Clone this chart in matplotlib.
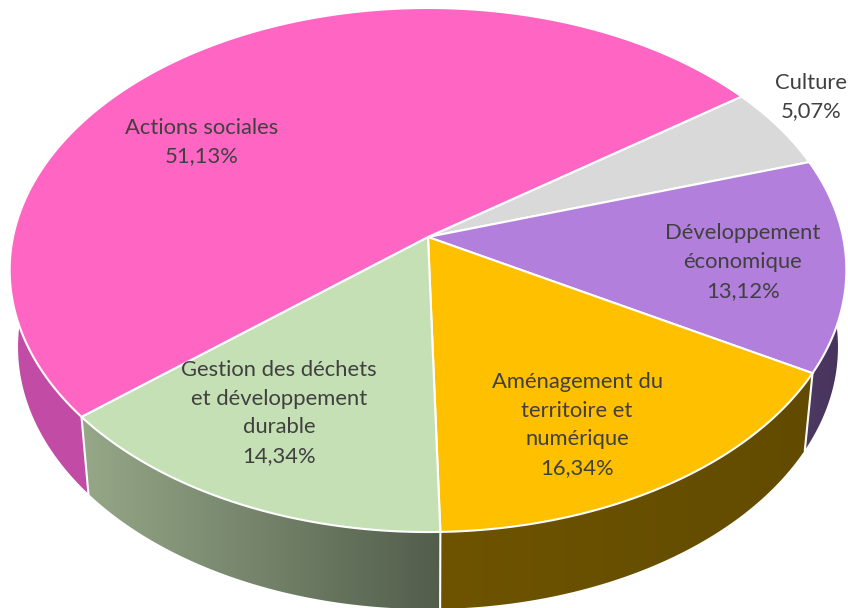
import matplotlib
matplotlib.use('Agg')
import matplotlib.pyplot as plt
from matplotlib.patches import Polygon
import numpy as np

# Slices, clockwise from the Culture/Actions sociales border
labels = ['Culture', 'Développement\néconomique', 'Aménagement du\nterritoire et\nnumérique',
          'Gestion des déchets\net développement\ndurable', 'Actions sociales']
values = [5.07, 13.12, 16.34, 14.34, 51.13]
top_colors = ['#d9d9d9', '#b27fdc', '#ffc000', '#c5e0b4', '#ff66c4']
wall_left = ['#8a8a8a', '#4d3a63', '#6e5400', '#96a888', '#c24ca5']
wall_right = ['#8a8a8a', '#46325c', '#624b00', '#525e4c', '#cb50a9']
label_pos = [(811, 97), (743, 262), (577, 425), (279, 413), (202, 142)]

start_angle = 35.8
hub = (428, 237)
scale_x = 415
far_k = 0.126
scale_y = -228
depth = 77
shrink = 0.98


# Tilted disc with some perspective, unit circle to pixels
def top_ring(theta):
    u, v = np.cos(theta), np.sin(theta)
    w = 1 + far_k * v
    return hub[0] + scale_x * u / w, (hub[1] + scale_y * v) / w


def low_ring(theta):
    x, y = top_ring(theta)
    return hub[0] + shrink * (x - hub[0]), y + depth


fig = plt.figure(figsize=(8.48, 6.08), dpi=100)
ax = fig.add_axes([0, 0, 1, 1])

edges = np.radians(start_angle - np.cumsum([0] + values) * 3.6)

# Side walls first, a left to right gradient clipped to each wall
for i in range(len(values)):
    th = np.linspace(edges[i], edges[i + 1], 300)
    x1, y1 = top_ring(th)
    x2, y2 = low_ring(th)
    xs = np.r_[x1, x2[::-1]]
    ys = np.r_[y1, y2[::-1]]
    a = np.array(matplotlib.colors.to_rgb(wall_left[i]))
    b = np.array(matplotlib.colors.to_rgb(wall_right[i]))
    grad = a + (b - a) * np.linspace(0, 1, 256)[:, None]
    im = ax.imshow(grad[None, :, :], extent=(xs.min(), xs.max(), ys.max(), ys.min()),
                   aspect='auto', zorder=1, interpolation='bilinear')
    im.set_clip_path(Polygon(np.c_[xs, ys], transform=ax.transData))

for e in edges[:-1]:
    if np.sin(e) < 0:
        x1, y1 = top_ring(e)
        x2, y2 = low_ring(e)
        ax.plot([x1, x2], [y1, y2], color='white', lw=1.5, zorder=2)

# Top face
for i in range(len(values)):
    th = np.linspace(edges[i], edges[i + 1], 300)
    x, y = top_ring(th)
    ax.fill(np.r_[hub[0], x], np.r_[hub[1], y], facecolor=top_colors[i],
            edgecolor='white', lw=1.5, joinstyle='round', zorder=3)

for name, val, pos in zip(labels, values, label_pos):
    txt = name + '\n' + f'{val:.2f}'.replace('.', ',') + '%'
    ax.text(pos[0], pos[1], txt, ha='center', va='center', fontsize=15.8, family='Lato',
            color='#404040', linespacing=1.55, zorder=4)

ax.set_xlim(0, 848)
ax.set_ylim(608, 0)
ax.axis('off')

fig.savefig('out.png', dpi=100)
